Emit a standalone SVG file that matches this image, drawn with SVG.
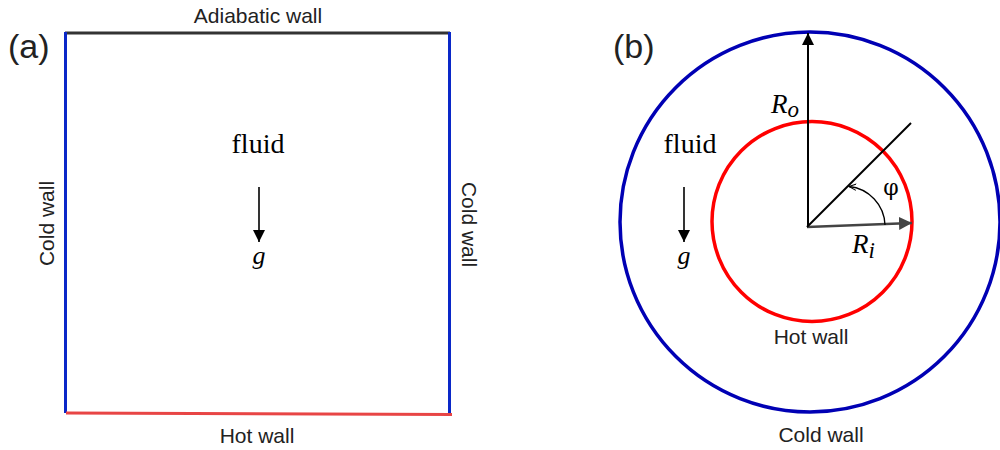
<svg xmlns="http://www.w3.org/2000/svg" width="1000" height="450" viewBox="0 0 1000 450">
<style>
.lbl{font-family:"Liberation Sans",Arial,sans-serif;font-size:21px;fill:#222;}
.pan{font-family:"Liberation Sans",Arial,sans-serif;font-size:34px;fill:#222;}
.math{font-family:"Liberation Serif","Times New Roman",serif;font-size:28px;fill:#000;}
.it{font-family:"Liberation Serif","Times New Roman",serif;font-style:italic;fill:#000;}
</style>
<defs>
<marker id="ah" viewBox="0 0 10 10" refX="10" refY="5" markerWidth="14" markerHeight="12" markerUnits="userSpaceOnUse" orient="auto">
<path d="M0,0 L10,5 L0,10 z" fill="#000"/>
</marker>
<marker id="ahg" viewBox="0 0 10 10" refX="10" refY="5" markerWidth="13" markerHeight="13" markerUnits="userSpaceOnUse" orient="auto">
<path d="M0,0 L10,5 L0,10 z" fill="#444"/>
</marker>
<marker id="av" viewBox="0 0 10 10" refX="9" refY="5" markerWidth="8" markerHeight="8" markerUnits="userSpaceOnUse" orient="auto">
<path d="M0,1 L9,5 L0,9" fill="none" stroke="#000" stroke-width="1.2"/>
</marker>
</defs>

<g id="panel-a">
<text class="pan" x="8" y="58">(a)</text>
<g id="box">
<line x1="65" y1="33" x2="450" y2="33" stroke="#333" stroke-width="3"/>
<line x1="65.5" y1="32" x2="65.5" y2="413" stroke="#0a28c8" stroke-width="3"/>
<line x1="449.5" y1="32" x2="449.5" y2="413" stroke="#0a28c8" stroke-width="3"/>
<line x1="66" y1="413" x2="452" y2="414.5" stroke="#e84545" stroke-width="3"/>
</g>
<text class="lbl" x="258" y="23" text-anchor="middle">Adiabatic wall</text>
<text class="lbl" x="257" y="443" text-anchor="middle">Hot wall</text>
<text class="lbl" text-anchor="middle" transform="translate(54,223.5) rotate(-90)">Cold wall</text>
<text class="lbl" text-anchor="middle" transform="translate(462,224.5) rotate(90)">Cold wall</text>
<text class="math" x="258" y="153" text-anchor="middle">fluid</text>
<line x1="259" y1="187" x2="259" y2="242" stroke="#000" stroke-width="1.6" marker-end="url(#ah)"/>
<text class="it" x="259" y="264" font-size="26" text-anchor="middle">g</text>
</g>

<g id="panel-b">
<text class="pan" x="613" y="58">(b)</text>
<circle id="outer" cx="810" cy="222" r="190" fill="none" stroke="#0000b4" stroke-width="3.5"/>
<circle id="inner" cx="812" cy="221.5" r="100" fill="none" stroke="#ff0000" stroke-width="3.5"/>
<text class="lbl" x="811" y="344" text-anchor="middle">Hot wall</text>
<text class="lbl" x="821" y="442" text-anchor="middle">Cold wall</text>
<text class="math" x="690" y="153" text-anchor="middle">fluid</text>
<line x1="684" y1="187" x2="684" y2="242" stroke="#000" stroke-width="1.6" marker-end="url(#ah)"/>
<text class="it" x="684" y="264" font-size="26" text-anchor="middle">g</text>
<g id="connectors">
<line x1="808" y1="227" x2="808" y2="33" stroke="#000" stroke-width="2" marker-end="url(#ah)"/>
<line x1="807" y1="227" x2="912" y2="223" stroke="#444" stroke-width="2.5" marker-end="url(#ahg)"/>
<line x1="807" y1="227" x2="911" y2="123" stroke="#000" stroke-width="2"/>
<path d="M885,225 A40,40 0 0 0 849,186.5" fill="none" stroke="#000" stroke-width="1.3" marker-end="url(#av)"/>
</g>
<text class="it" x="771" y="113" font-size="27">R<tspan font-size="23" dy="4">o</tspan></text>
<text class="it" x="852" y="253" font-size="27">R<tspan font-size="23" dy="5">i</tspan></text>
<text x="891" y="195" font-family="'DejaVu Serif','Liberation Serif',serif" font-size="22" text-anchor="middle" fill="#000">φ</text>
</g>
</svg>
